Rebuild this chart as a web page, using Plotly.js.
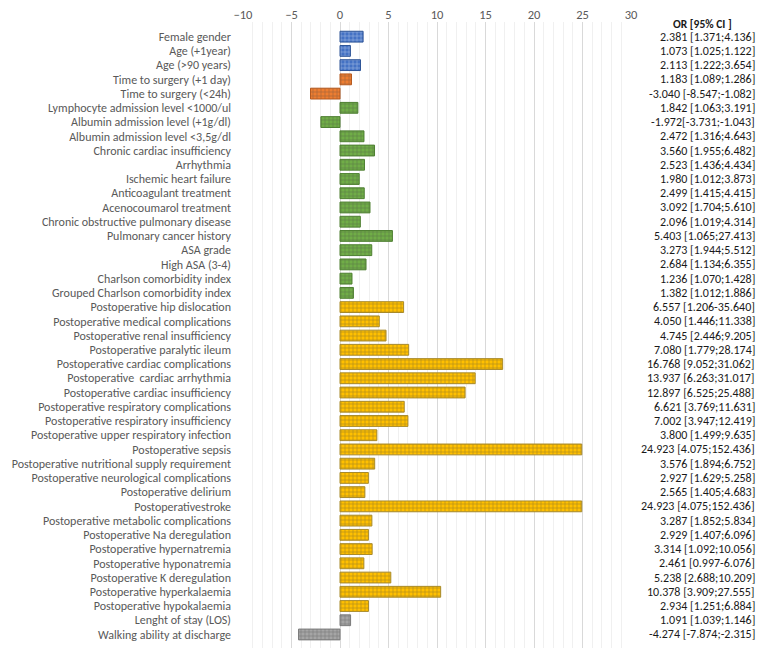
<!DOCTYPE html>
<html>
<head>
<meta charset="utf-8">
<script src="https://cdn.plot.ly/plotly-3.0.1.min.js"></script>
<style>html,body{margin:0;padding:0;background:#fff;}#chart{width:760px;height:651px;}</style>
</head>
<body>
<div id="chart"></div>
<script>
const labels = [
  "Female gender","Age (+1year)","Age (>90 years)","Time to surgery (+1 day)","Time to surgery (<24h)",
  "Lymphocyte admission level <1000/ul","Albumin admission level (+1g/dl)","Albumin admission level <3,5g/dl",
  "Chronic cardiac insufficiency","Arrhythmia","Ischemic heart failure","Anticoagulant treatment",
  "Acenocoumarol treatment","Chronic obstructive pulmonary disease","Pulmonary cancer history","ASA grade",
  "High ASA (3-4)","Charlson comorbidity index","Grouped Charlson comorbidity index",
  "Postoperative hip dislocation","Postoperative medical complications","Postoperative renal insufficiency",
  "Postoperative paralytic ileum","Postoperative cardiac complications","Postoperative  cardiac arrhythmia",
  "Postoperative cardiac insufficiency","Postoperative respiratory complications","Postoperative respiratory insufficiency",
  "Postoperative upper respiratory infection","Postoperative sepsis","Postoperative nutritional supply requirement",
  "Postoperative neurological complications","Postoperative delirium","Postoperativestroke",
  "Postoperative metabolic complications","Postoperative Na deregulation","Postoperative hypernatremia",
  "Postoperative hyponatremia","Postoperative K deregulation","Postoperative hyperkalaemia",
  "Postoperative hypokalaemia","Lenght of stay (LOS)","Walking ability at discharge"
];
const orValues = [
  2.381,1.073,2.113,1.183,-3.040,1.842,-1.972,2.472,3.560,2.523,1.980,2.499,3.092,2.096,5.403,3.273,
  2.684,1.236,1.382,6.557,4.050,4.745,7.080,16.768,13.937,12.897,6.621,7.002,3.800,24.923,3.576,2.927,
  2.565,24.923,3.287,2.929,3.314,2.461,5.238,10.378,2.934,1.091,-4.274
];
const ciText = [
  " [1.371;4.136]"," [1.025;1.122]"," [1.222;3.654]"," [1.089;1.286]"," [-8.547;-1.082]"," [1.063;3.191]",
  "[-3.731;-1.043]"," [1.316;4.643]"," [1.955;6.482]"," [1.436;4.434]"," [1.012;3.873]"," [1.415;4.415]",
  " [1.704;5.610]"," [1.019;4.314]"," [1.065;27.413]"," [1.944;5.512]"," [1.134;6.355]"," [1.070;1.428]",
  " [1.012;1.886]"," [1.206-35.640]"," [1.446;11.338]"," [2.446;9.205]"," [1.779;28.174]"," [9.052;31.062]",
  " [6.263;31.017]"," [6.525;25.488]"," [3.769;11.631]"," [3.947;12.419]"," [1.499;9.635]"," [4.075;152.436]",
  " [1.894;6.752]"," [1.629;5.258]"," [1.405;4.683]"," [4.075;152.436]"," [1.852;5.834]"," [1.407;6.096]",
  " [1.092;10.056]"," [0.997-6.076]"," [2.688;10.209]"," [3.909;27.555]"," [1.251;6.884]"," [1.039;1.146]",
  " [-7.874;-2.315]"
];
const groups = [
  "blue","blue","blue","orange","orange",
  "green","green","green","green","green","green","green","green","green","green","green","green","green","green",
  "yellow","yellow","yellow","yellow","yellow","yellow","yellow","yellow","yellow","yellow","yellow","yellow",
  "yellow","yellow","yellow","yellow","yellow","yellow","yellow","yellow","yellow","yellow",
  "gray","gray"
];
const fillColors = {blue:"#4472C4", orange:"#ED7D31", green:"#70AD47", yellow:"#FFC000", gray:"#A5A5A5"};
const lineColors = {blue:"#2F5597", orange:"#B4591F", green:"#4E7F31", yellow:"#A88A2A", gray:"#7A7A7A"};
const fontFam = "Carlito, 'Noto Sans', sans-serif";

const trace = {
  type: "bar",
  orientation: "h",
  y: labels,
  x: orValues,
  width: 0.76,
  marker: {
    color: groups.map(g => fillColors[g]),
    line: {color: groups.map(g => lineColors[g]), width: 1},
    pattern: {shape: "+", fillmode: "overlay", fgcolor: "#ffffff", fgopacity: 0.5, size: 4, solidity: 0.25}
  },
  hoverinfo: "skip"
};

const annotations = labels.map((lab, i) => ({
  xref: "paper", yref: "y", x: 1.3247, y: lab, xanchor: "right", yanchor: "middle",
  text: orValues[i].toFixed(3) + ciText[i], showarrow: false,
  font: {family: fontFam, size: 12, color: "#1a1a1a"}
}));
annotations.push({
  xref: "paper", yref: "paper", x: 1.103, y: 0.997, xanchor: "left", yanchor: "middle",
  text: "<b>OR [95% CI ]</b>", showarrow: false,
  font: {family: fontFam, size: 11.5, color: "#1a1a1a"}
});

const layout = {
  width: 760, height: 651,
  margin: {l: 243, r: 129, t: 22, b: 3},
  paper_bgcolor: "#ffffff", plot_bgcolor: "#ffffff",
  showlegend: false,
  font: {family: fontFam},
  xaxis: {
    side: "top", range: [-10, 30], tickvals: [-10,-5,0,5,10,15,20,25,30],
    showgrid: true, gridcolor: "#d9d9d9", gridwidth: 1,
    minor: {dtick: 1, showgrid: true, gridcolor: "#f0f0f0", gridwidth: 1, ticks: ""},
    zeroline: true, zerolinecolor: "#d9d9d9", zerolinewidth: 1,
    showline: false, ticks: "",
    tickfont: {family: fontFam, size: 12.5, color: "#595959"}
  },
  yaxis: {
    type: "category", range: [42.95, -1.03], autorange: false,
    showgrid: false, zeroline: false, showline: false, ticks: "",
    ticklabelstandoff: 11,
    tickfont: {family: fontFam, size: 12, color: "#595959"}
  },
  annotations: annotations
};

Plotly.newPlot("chart", [trace], layout, {displayModeBar: false, staticPlot: true});
</script>
</body>
</html>
